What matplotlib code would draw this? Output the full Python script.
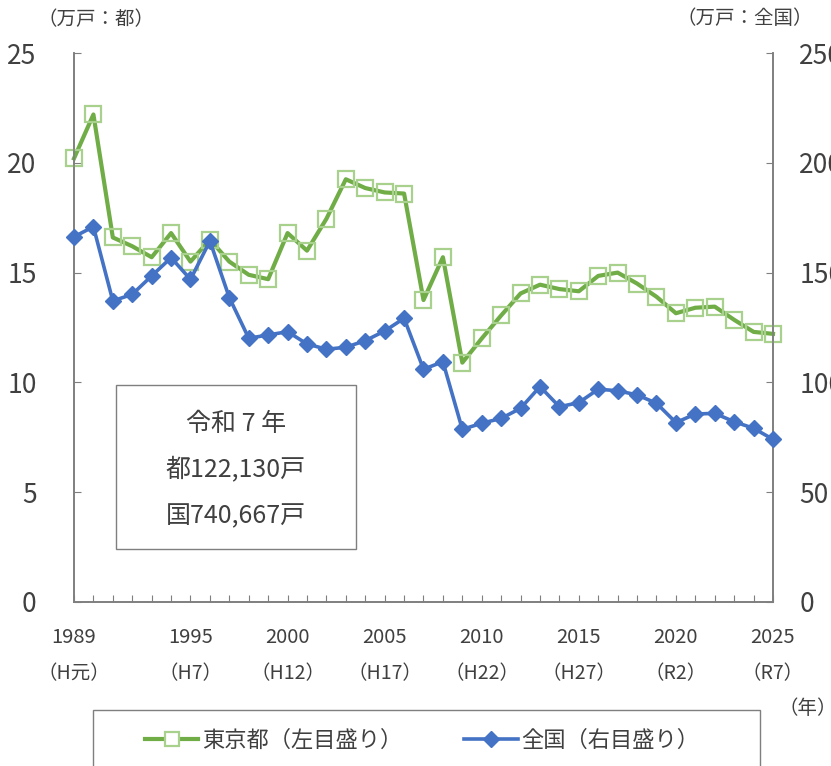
import matplotlib.pyplot as plt
from matplotlib.patches import Rectangle
from matplotlib.lines import Line2D

plt.rcParams['font.family'] = ['Noto Sans CJK JP', 'DejaVu Sans']

years = list(range(1989, 2026))
tokyo = [20.2, 22.2, 16.6, 16.2, 15.7, 16.8, 15.5, 16.5, 15.5, 14.9,
         14.7, 16.8, 16.0, 17.45, 19.25, 18.85, 18.65, 18.6, 13.75, 15.7,
         10.9, 12.0, 13.05, 14.05, 14.45, 14.25, 14.15, 14.85, 15.0, 14.5,
         13.9, 13.15, 13.4, 13.45, 12.85, 12.3, 12.21]
national = [166.3, 170.9, 137.1, 140.1, 148.5, 156.8, 146.9, 164.4, 138.6, 120.1,
            121.6, 123.1, 117.5, 115.1, 116.0, 119.0, 123.4, 129.2, 106.0, 109.4,
            78.6, 81.4, 83.6, 88.2, 98.1, 88.9, 90.8, 96.9, 96.2, 94.3,
            90.5, 81.7, 85.6, 85.9, 82.1, 79.1, 74.07]

label_years = [1989, 1995, 2000, 2005, 2010, 2015, 2020, 2025]
era_labels = ['（H元）', '（H7）', '（H12）', '（H17）', '（H22）', '（H27）', '（R2）', '（R7）']

green = '#70AD47'
green_light = '#A9D18E'
blue = '#4472C4'
grey = '#7f7f7f'
txt = '#404040'

fig = plt.figure(figsize=(8.31, 7.66), dpi=100)
ax = fig.add_axes([74/831, 164/766, 699/831, 549/766])
ax2 = ax.twinx()

ax.plot(years, tokyo, color=green, lw=3, marker='s', ms=11, mfc='none',
        mec=green_light, mew=1.6, clip_on=False, zorder=3)
ax2.plot(years, national, color=blue, lw=2.6, marker='D', ms=8.5, mfc=blue,
         mec=blue, clip_on=False, zorder=3)

ax.set_xlim(1989, 2025)
ax.set_ylim(0, 25)
ax2.set_ylim(0, 250)
ax.set_yticks(range(0, 26, 5))
ax2.set_yticks(range(0, 251, 50))
ax.set_xticks(years)
ax.set_xticklabels([])

for a in (ax, ax2):
    a.spines['top'].set_visible(False)
    for s in ('left', 'right', 'bottom'):
        a.spines[s].set_color(grey)
        a.spines[s].set_linewidth(1.2)
ax.tick_params(axis='y', direction='in', length=5, color=grey, labelsize=19,
               labelcolor=txt, pad=27)
ax2.tick_params(axis='y', direction='in', length=5, color=grey, labelsize=19,
                labelcolor=txt, pad=19)
ax.tick_params(axis='x', direction='in', length=5, color=grey)

for y, e in zip(label_years, era_labels):
    ax.text(y, -0.064, str(y), transform=ax.get_xaxis_transform(),
            ha='center', va='center', fontsize=14.5, color=txt)
    ax.text(y, -0.131, e, transform=ax.get_xaxis_transform(),
            ha='center', va='center', fontsize=14, color=txt)

fig.text(96/831, 1 - 20/766, '（万戸：都）', ha='center', va='center', fontsize=14, color=txt)
fig.text(745/831, 1 - 19/766, '（万戸：全国）', ha='center', va='center', fontsize=14, color=txt)
fig.text(808/831, 1 - 708/766, '（年）', ha='center', va='center', fontsize=14, color=txt)

# annotation box
fig.patches.append(Rectangle((116/831, 1 - 549/766), 240/831, 164/766,
                             transform=fig.transFigure, fill=False,
                             edgecolor=grey, lw=1))
for yy, s in zip([424, 469, 516], ['令和 7 年', '都122,130戸', '国740,667戸']):
    fig.text(236/831, 1 - yy/766, s, ha='center', va='center', fontsize=18, color=txt)

# legend box (cut off at bottom)
fig.patches.append(Rectangle((93/831, -0.05), 667/831, 0.05 + 56/766,
                             transform=fig.transFigure, fill=False,
                             edgecolor=grey, lw=1, clip_on=False))
handles = [Line2D([], [], color=green, lw=3, marker='s', ms=10, mfc='white',
                  mec=green_light, mew=1.6),
           Line2D([], [], color=blue, lw=2.6, marker='D', ms=8, mfc=blue, mec=blue)]
fig.legend(handles, ['東京都（左目盛り）', '全国（右目盛り）'], loc='center',
           bbox_to_anchor=(422/831, 1 - 740/766), ncol=2, frameon=False,
           fontsize=16, handlelength=2.4, handletextpad=0.15, columnspacing=2.8,
           labelcolor=txt)

fig.savefig('out.png', dpi=100)
